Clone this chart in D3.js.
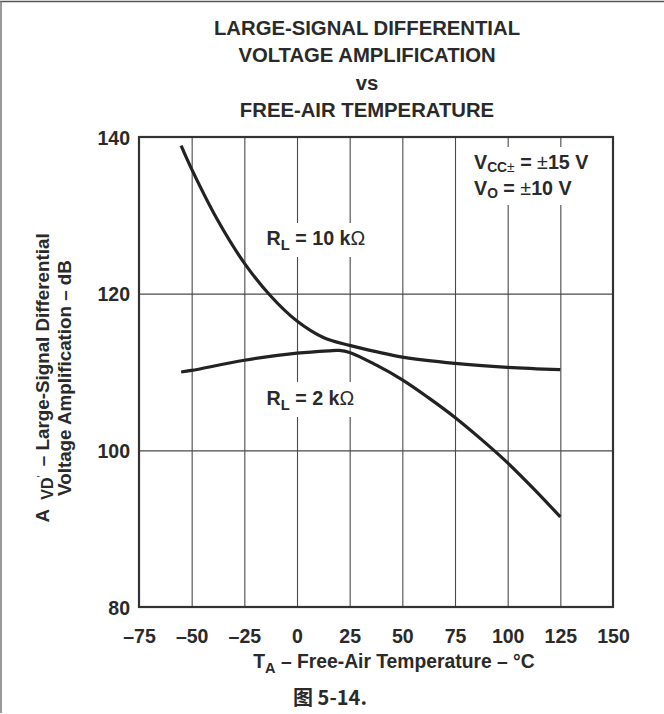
<!DOCTYPE html>
<html>
<head>
<meta charset="utf-8">
<script src="https://cdn.jsdelivr.net/npm/d3@7"></script>
<style>
  html, body { margin: 0; padding: 0; background: #fff; }
  svg { display: block; }
  text { font-family: "Liberation Sans", Arial, Helvetica, sans-serif; font-weight: bold; fill: #2a2a2a; }
</style>
</head>
<body>
<script>
// Free-air temperature (°C) and large-signal gain (dB) for each load
const tempTicks = [-75, -50, -25, 0, 25, 50, 75, 100, 125, 150];
const tempTickLabels = ["\u201375", "\u201350", "\u201325", "0", "25", "50", "75", "100", "125", "150"];
const gainTicks = [80, 100, 120, 140];
const gainTickLabels = ["80", "100", "120", "140"];

const rl10kTemp = [-55, -50, -37.5, -25, -12.5, 0, 12.5, 25, 37.5, 50, 75, 100, 125];
const rl10kGain = [138.9, 135.9, 129.3, 123.9, 119.7, 116.5, 114.4, 113.4, 112.6, 111.9, 111.1, 110.6, 110.3];

const rl2kTemp = [-55, -50, -25, 0, 15, 20, 25, 37.5, 50, 62.5, 75, 87.5, 100, 112.5, 125];
const rl2kGain = [110.0, 110.2, 111.5, 112.4, 112.7, 112.75, 112.5, 110.9, 109.0, 106.7, 104.2, 101.4, 98.4, 95.05, 91.5];

const titleLines = ["LARGE-SIGNAL DIFFERENTIAL", "VOLTAGE AMPLIFICATION", "vs", "FREE-AIR TEMPERATURE"];

const W = 664, H = 714;
const plot = { left: 139, right: 613, top: 137, bottom: 607 };

const svg = d3.select("body").append("svg").attr("width", W).attr("height", H);

// outer frame (top and left edges)
svg.append("line").attr("x1", 0).attr("x2", W).attr("y1", 1.5).attr("y2", 1.5)
  .attr("stroke", "#555").attr("stroke-width", 1.5);
svg.append("line").attr("x1", 1).attr("x2", 1).attr("y1", 1).attr("y2", 713)
  .attr("stroke", "#777").attr("stroke-width", 1.5);

const x = d3.scaleLinear().domain([-75, 150]).range([plot.left, plot.right]);
const y = d3.scaleLinear().domain([80, 140]).range([plot.bottom, plot.top]);

// title
svg.append("g").selectAll("text").data(titleLines).join("text")
  .attr("x", 367).attr("y", (d, i) => 35 + i * 27.3)
  .attr("text-anchor", "middle").attr("font-size", 20.3)
  .text(d => d);

// grid lines
const gridColor = "#4a4a4a";
svg.append("g").attr("transform", `translate(0,${plot.bottom})`)
  .call(d3.axisBottom(x).tickValues(tempTicks.slice(1, -1)).tickSize(-(plot.bottom - plot.top)).tickFormat(""))
  .call(g => g.select(".domain").remove())
  .call(g => g.selectAll("line").attr("stroke", gridColor).attr("stroke-width", 1.1));
svg.append("g").attr("transform", `translate(${plot.left},0)`)
  .call(d3.axisLeft(y).tickValues(gainTicks.slice(1, -1)).tickSize(-(plot.right - plot.left)).tickFormat(""))
  .call(g => g.select(".domain").remove())
  .call(g => g.selectAll("line").attr("stroke", gridColor).attr("stroke-width", 1.1));

// tick labels
svg.append("g").attr("transform", `translate(0,${plot.bottom + 36})`)
  .call(d3.axisBottom(x).tickValues(tempTicks).tickSize(0).tickPadding(0)
    .tickFormat((d, i) => tempTickLabels[i]))
  .call(g => g.select(".domain").remove())
  .call(g => g.selectAll("text").attr("dy", 0).attr("font-size", 19.5).attr("font-family", null).attr("fill", null));
svg.append("g").attr("transform", `translate(130,0)`)
  .call(d3.axisLeft(y).tickValues(gainTicks).tickSize(0).tickPadding(0)
    .tickFormat((d, i) => gainTickLabels[i]))
  .call(g => g.select(".domain").remove())
  .call(g => g.selectAll("text").attr("dy", "0.36em").attr("font-size", 19.5).attr("font-family", null).attr("fill", null));

// white plates behind the in-plot labels
const plates = [
  { x: 262, y: 223, w: 108, h: 34 },
  { x: 262, y: 382, w: 96, h: 35 },
  { x: 470, y: 147, w: 132, h: 58 }
];
svg.append("g").selectAll("rect").data(plates).join("rect")
  .attr("x", d => d.x).attr("y", d => d.y).attr("width", d => d.w).attr("height", d => d.h)
  .attr("fill", "#fff");

// plot border
svg.append("rect")
  .attr("x", plot.left).attr("y", plot.top)
  .attr("width", plot.right - plot.left).attr("height", plot.bottom - plot.top)
  .attr("fill", "none").attr("stroke", "#333").attr("stroke-width", 2.2);

// curves
const line = d3.line().x(d => x(d[0])).y(d => y(d[1])).curve(d3.curveCatmullRom.alpha(0.5));
const series = [
  d3.zip(rl10kTemp, rl10kGain),
  d3.zip(rl2kTemp, rl2kGain)
];
svg.append("g").selectAll("path").data(series).join("path")
  .attr("d", line).attr("fill", "none")
  .attr("stroke", "#222").attr("stroke-width", 3.2).attr("stroke-linecap", "butt");

// in-plot labels
const labelSize = 19.7, subSize = 14.8;
function rlLabel(xp, yp, value) {
  const t = svg.append("text").attr("x", xp).attr("y", yp).attr("font-size", labelSize);
  t.append("tspan").text("R");
  t.append("tspan").attr("font-size", subSize).attr("dy", 5).text("L");
  t.append("tspan").attr("dy", -5).text(` = ${value} k`);
  t.append("tspan").attr("font-weight", "normal").text("\u03A9");
}
rlLabel(266.5, 245, "10");
rlLabel(266.5, 405, "2");

// supply / output swing conditions
const condSub = 13.8, condDrop = 3;
const cond1 = svg.append("text").attr("x", 474).attr("y", 169).attr("font-size", labelSize);
cond1.append("tspan").text("V");
cond1.append("tspan").attr("font-size", condSub).attr("dy", condDrop).text("CC");
cond1.append("tspan").attr("font-size", condSub).attr("font-weight", "normal").text("\u00B1");
cond1.append("tspan").attr("dy", -condDrop).text(" = ");
cond1.append("tspan").attr("font-weight", "normal").text("\u00B1");
cond1.append("tspan").text("15 V");

const cond2 = svg.append("text").attr("x", 474).attr("y", 195).attr("font-size", labelSize);
cond2.append("tspan").text("V");
cond2.append("tspan").attr("font-size", condSub).attr("dy", condDrop).text("O");
cond2.append("tspan").attr("dy", -condDrop).text(" = ");
cond2.append("tspan").attr("font-weight", "normal").text("\u00B1");
cond2.append("tspan").text("10 V");

// axis titles
const xt = svg.append("text").attr("x", 394).attr("y", 668).attr("text-anchor", "middle").attr("font-size", 19.3);
xt.append("tspan").text("T");
xt.append("tspan").attr("font-size", 14.5).attr("dy", 5).text("A");
xt.append("tspan").attr("dy", -5).text(" \u2013 Free-Air Temperature \u2013 \u00B0C");

const yt = svg.append("g").attr("transform", "translate(0,378) rotate(-90)");
const yl1 = yt.append("text").attr("x", 0).attr("y", 49).attr("text-anchor", "middle").attr("font-size", 18.8);
yl1.append("tspan").text("A\u2002");
yl1.append("tspan").attr("font-size", 16).attr("dy", 4).text("VD");
yl1.append("tspan").attr("font-size", 10).attr("font-weight", "normal").attr("dy", -8).text("\u2032");
yl1.append("tspan").attr("dy", 4).text("\u2002\u2013 Large-Signal Differential");
yt.append("text").attr("x", 0).attr("y", 71).attr("text-anchor", "middle").attr("font-size", 18.8)
  .text("Voltage Amplification \u2013 dB");

// figure caption
svg.append("text").attr("x", 330).attr("y", 705).attr("text-anchor", "middle").attr("font-size", 20)
  .style("font-family", "'Noto Sans CJK SC', 'Liberation Sans', sans-serif")
  .text("图 5-14.");
</script>
</body>
</html>
